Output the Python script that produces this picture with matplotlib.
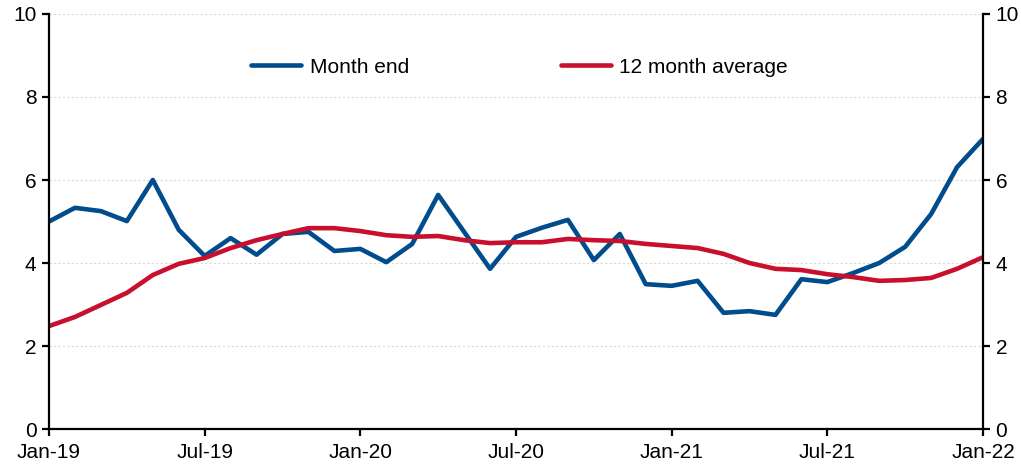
import matplotlib
matplotlib.use("Agg")
import matplotlib.pyplot as plt
import pandas as pd

months = pd.date_range("2019-01-01", "2022-01-01", freq="MS")
month_end = [5.0, 5.33, 5.25, 5.01, 6.0, 4.8, 4.17, 4.6, 4.2, 4.7, 4.75, 4.29,
             4.34, 4.02, 4.46, 5.64, 4.75, 3.86, 4.63, 4.85, 5.04, 4.07, 4.7, 3.49,
             3.45, 3.57, 2.8, 2.84, 2.75, 3.61, 3.54, 3.76, 4.0, 4.39, 5.18, 6.31, 6.99]
avg_12m = [2.48, 2.7, 2.99, 3.28, 3.71, 3.98, 4.12, 4.36, 4.55, 4.7, 4.84, 4.84,
           4.77, 4.67, 4.63, 4.65, 4.55, 4.48, 4.5, 4.5, 4.58, 4.55, 4.53, 4.46,
           4.41, 4.36, 4.22, 4.0, 3.86, 3.83, 3.73, 3.66, 3.57, 3.59, 3.64, 3.86, 4.14]
tick_labels = ["Jan-19", "Jul-19", "Jan-20", "Jul-20", "Jan-21", "Jul-21", "Jan-22"]
y_ticks = [0, 2, 4, 6, 8, 10]

plt.rcParams['font.family'] = ['Liberation Sans', 'DejaVu Sans']
fig = plt.figure(figsize=(10.21, 4.65), dpi=100)
ax = fig.add_axes([0.048, 0.0774, 0.9148, 0.8925])

x = list(range(len(months)))
ax.plot(x, month_end, color="#004C8C", lw=3.3, label="Month end", solid_capstyle="round")
ax.plot(x, avg_12m, color="#C8102E", lw=3.3, label="12 month average", solid_capstyle="round")

ax.set_xlim(0, len(months) - 1)
ax.set_ylim(0, 10)
ax.set_xticks(list(range(0, len(months), 6)))
ax.set_xticklabels(tick_labels)
ax.set_yticks(y_ticks)
ax.yaxis.grid(True, linestyle=(0, (2, 2)), color="#d9d9d9", lw=0.8)
ax.set_axisbelow(True)

for s in ["left", "right", "bottom"]:
    ax.spines[s].set_linewidth(1.6)
    ax.spines[s].set_color("black")
ax.spines["top"].set_visible(False)
ax.tick_params(axis="both", labelsize=15, length=5, width=1.6, direction="out", colors="black")
ax.tick_params(axis="y", labelright=True, right=True, pad=4)
ax.tick_params(axis="x", pad=5)

leg = ax.legend(loc="center", bbox_to_anchor=(0.504, 0.872), ncol=2, frameon=False,
                fontsize=15, handlelength=2.4, handletextpad=0.4, columnspacing=7.3)

fig.savefig("out.png", dpi=100)
